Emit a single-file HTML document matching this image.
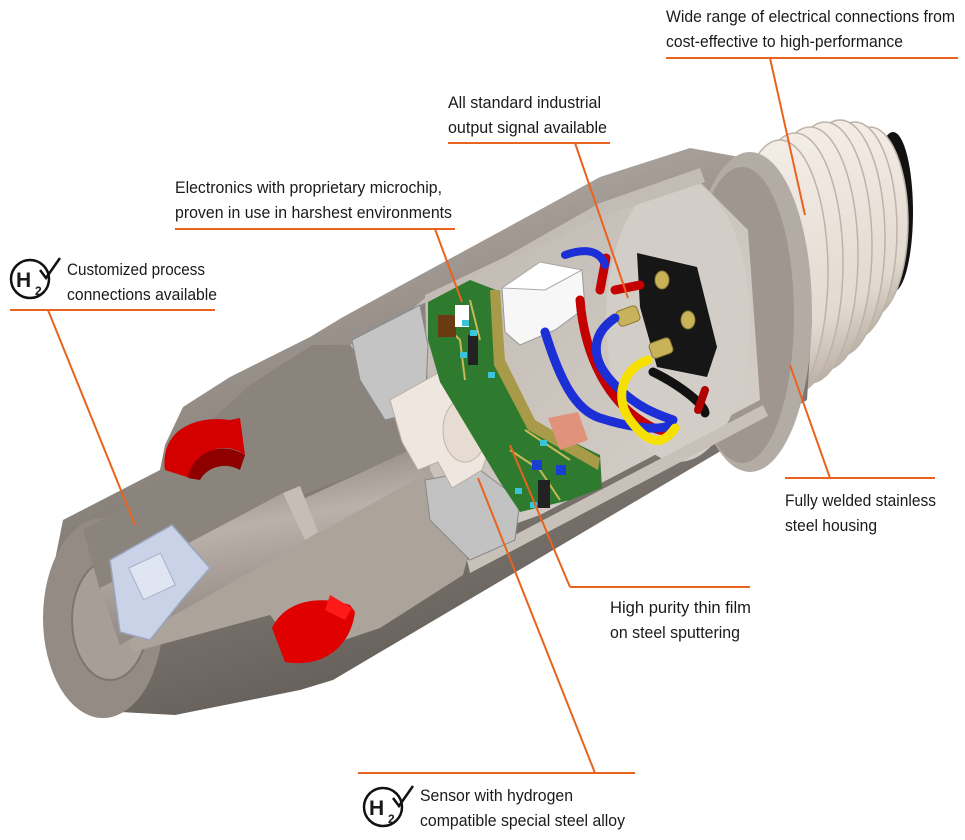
<!DOCTYPE html>
<html><head><meta charset="utf-8"><style>
html,body{margin:0;padding:0;background:#fff;}
svg{display:block}
text{font-family:"Liberation Sans Narrow","Liberation Sans",sans-serif;font-size:17px;fill:#1a1a1a}
</style></head><body>
<svg width="965" height="840" viewBox="0 0 965 840" xmlns="http://www.w3.org/2000/svg">
<defs>
<linearGradient id="hous" x1="0" y1="0" x2="0.4" y2="1">
<stop offset="0" stop-color="#c9c2bb"/><stop offset="0.4" stop-color="#9a928b"/><stop offset="1" stop-color="#625c57"/></linearGradient>
<linearGradient id="bore" x1="0" y1="0" x2="0.3" y2="1">
<stop offset="0" stop-color="#6f6962"/><stop offset="0.5" stop-color="#bab2aa"/><stop offset="1" stop-color="#8a827b"/></linearGradient>
<linearGradient id="thr" x1="0" y1="0" x2="0" y2="1">
<stop offset="0" stop-color="#f3ede6"/><stop offset="0.7" stop-color="#e2d9cf"/><stop offset="1" stop-color="#b8aea3"/></linearGradient>
<linearGradient id="cav" x1="0" y1="0" x2="1" y2="1">
<stop offset="0" stop-color="#bfb8b1"/><stop offset="1" stop-color="#d8d2cc"/></linearGradient>
</defs>

<!-- thread -->
<ellipse cx="893" cy="212" rx="20" ry="80" fill="#111"/>
<g fill="url(#thr)" stroke="#bdb3a8" stroke-width="1.5">
<ellipse cx="870" cy="222" rx="38" ry="95"/>
<ellipse cx="855" cy="230" rx="42" ry="108"/>
<ellipse cx="840" cy="238" rx="45" ry="118"/>
<ellipse cx="825" cy="246" rx="47" ry="124"/>
<ellipse cx="810" cy="255" rx="48" ry="128"/>
<ellipse cx="795" cy="263" rx="48" ry="130"/>
<ellipse cx="780" cy="272" rx="48" ry="132"/>
</g>

<!-- main body silhouette -->
<polygon points="45,610 63,520 160,470 165,445 183,407 230,377 310,337 343,317 600,177 690,148 745,158 790,215 812,320 807,400 333,680 300,690 250,700 175,715 120,712 60,670" fill="url(#hous)"/>
<!-- end rim ring -->
<ellipse cx="750" cy="312" rx="62" ry="160" fill="#b3aca5"/>
<ellipse cx="742" cy="315" rx="52" ry="148" fill="#9e968f"/>
<!-- left end face -->
<ellipse cx="103" cy="618" rx="60" ry="100" fill="#938b84"/>
<ellipse cx="110" cy="620" rx="38" ry="60" fill="#a69e97" stroke="#7d766f" stroke-width="2"/>

<!-- upper cut face (darker) -->
<polygon points="83,530 173,478 190,440 250,385 312,345 350,345 600,205 610,330 440,440 290,500 100,590" fill="#8b847d"/>
<!-- lower cut face (lighter) -->
<polygon points="100,590 440,440 475,470 467,560 463,575 380,628 300,655 270,615 133,652 120,630" fill="#aca49b"/>
<!-- bore -->
<polygon points="100,588 185,545 283,493 290,505 432,440 442,465 315,535 210,595 120,645" fill="url(#bore)"/>
<polygon points="283,493 300,486 318,532 305,540" fill="#c6beb6"/>
<!-- blue insert -->
<polygon points="110,560 172,525 210,568 182,600 150,640 120,632" fill="#c9d2e6" stroke="#9aa4bd" stroke-width="1.5"/>
<rect x="135" y="560" width="35" height="35" fill="#dfe5f2" stroke="#a8b0c6" transform="rotate(-25 150 578)"/>

<!-- red seals -->
<path d="M165,470 C160,430 195,415 230,420 L240,418 L245,455 C225,440 195,450 190,478 Z" fill="#d40000"/>
<path d="M188,478 C192,452 222,440 245,455 L240,470 C222,460 205,470 200,480 Z" fill="#8e0000"/>
<path d="M272,628 C285,600 320,595 350,605 L355,612 C350,650 320,668 285,662 Z" fill="#e00000"/>
<path d="M330,595 L352,608 L345,620 L325,610 Z" fill="#ff1a1a"/>

<!-- cavity -->
<polygon points="425,295 600,212 700,182 748,230 760,400 540,515 470,540 430,470" fill="url(#cav)"/>
<ellipse cx="678" cy="320" rx="72" ry="142" fill="#d3cdc7"/>
<polygon points="350,345 600,203 700,168 705,182 600,217 425,298 358,355" fill="#c3bcb5"/>
<polygon points="467,560 763,405 768,416 470,573" fill="#c8c1ba"/>
<!-- internal grey recesses -->
<polygon points="352,340 420,305 428,345 425,410 385,420 360,380" fill="#c4c4c4" stroke="#888" stroke-width="1"/>
<polygon points="425,480 480,470 520,500 515,540 470,560 430,520" fill="#c2c2c2" stroke="#888" stroke-width="1"/>
<!-- cream sensor body -->
<polygon points="390,400 440,372 480,388 496,430 482,470 452,488 438,462 418,470 402,442" fill="#efe7df" stroke="#b8aea4" stroke-width="1"/>
<ellipse cx="465" cy="430" rx="22" ry="32" fill="#e6dcd2" stroke="#bfb4a9"/>

<!-- PCB -->
<polygon points="428,302 470,280 496,290 500,360 528,420 600,455 602,488 570,500 520,512 500,482 476,442 440,382 428,340" fill="#2e7a2e"/>
<polygon points="490,290 500,290 505,360 535,420 600,458 598,470 528,430 494,365" fill="#a89a48"/>
<path d="M440,320 L460,340 L465,380 M470,300 L480,340 M510,450 L540,470 L560,500 M525,430 L570,460" stroke="#c9b85a" stroke-width="2" fill="none"/>
<rect x="438" y="315" width="18" height="22" fill="#6b3a12"/>
<rect x="455" y="305" width="14" height="22" fill="#fff"/>
<rect x="468" y="335" width="10" height="30" fill="#222"/>
<rect x="538" y="480" width="12" height="28" fill="#222"/>
<g fill="#3cc3d8"><rect x="462" y="320" width="7" height="6"/><rect x="470" y="330" width="7" height="6"/><rect x="460" y="352" width="7" height="6"/><rect x="488" y="372" width="7" height="6"/><rect x="540" y="440" width="7" height="6"/><rect x="515" y="488" width="7" height="6"/><rect x="530" y="502" width="7" height="6"/></g>
<g fill="#1a3fd0"><rect x="532" y="460" width="10" height="10"/><rect x="556" y="465" width="10" height="10"/></g>
<polygon points="548,418 578,412 588,440 560,450" fill="#e0927a"/>

<!-- white connector -->
<polygon points="502,288 540,262 582,270 585,308 555,330 520,345 505,332" fill="#f7f7f7" stroke="#999" stroke-width="1"/>
<polygon points="502,288 540,262 582,270 545,290" fill="#fff" stroke="#aaa" stroke-width="1"/>

<!-- black plate -->
<polygon points="637,253 697,267 717,347 707,377 657,367 640,307" fill="#161616"/>
<g fill="#c9b35a" stroke="#8a7730" stroke-width="1">
<ellipse cx="662" cy="280" rx="7" ry="9"/><ellipse cx="688" cy="320" rx="7" ry="9"/>
<rect x="617" y="308" width="22" height="16" rx="4" transform="rotate(-20 628 316)"/>
<rect x="650" y="340" width="22" height="16" rx="4" transform="rotate(-20 661 348)"/>
</g>

<!-- wires -->
<g fill="none" stroke-linecap="round">
<path d="M580,300 C585,360 610,400 640,420 S665,425 670,425" stroke="#c40000" stroke-width="9"/>
<path d="M606,258 L600,290" stroke="#c40000" stroke-width="9"/>
<path d="M615,290 L640,285" stroke="#c40000" stroke-width="9"/>
<path d="M545,332 C560,380 575,410 600,418 S655,432 672,425" stroke="#1c2fd6" stroke-width="9"/>
<path d="M615,318 C590,335 590,360 615,385 S660,415 673,420" stroke="#1c2fd6" stroke-width="9"/>
<path d="M565,255 C585,248 600,250 605,265" stroke="#1c2fd6" stroke-width="8"/>
<path d="M653,372 C680,385 705,405 705,413" stroke="#111" stroke-width="9"/>
<path d="M705,390 L698,410" stroke="#b00000" stroke-width="8"/>
<path d="M648,360 C620,370 615,400 630,420 S660,450 675,428" stroke="#f5e000" stroke-width="9"/>
</g>

<!-- leader lines -->
<g stroke="#e8641e" stroke-width="2" fill="none">
<path d="M666,58 H958 M770,58 L805,215"/>
<path d="M448,143 H610 M575,143 L628,298"/>
<path d="M175,229 H455 M435,229 L462,302"/>
<path d="M10,310 H215 M48,310 L135,525"/>
<path d="M785,478 H935 M830,478 L790,365"/>
<path d="M570,587 H750 M570,587 L510,445"/>
<path d="M358,773 H635 M595,773 L478,478"/>
</g>

<!-- H2 icons -->
<g>
<circle cx="30" cy="279" r="19" fill="#fff" stroke="#111" stroke-width="2.5"/>
<text x="16" y="287" style="font-size:21px;font-weight:bold">H</text>
<text x="35" y="295" style="font-size:12px;font-weight:bold">2</text>
<path d="M40,270 L46,278 L60,258" stroke="#111" stroke-width="2.5" fill="none"/>
</g>
<g>
<circle cx="383" cy="807" r="19" fill="#fff" stroke="#111" stroke-width="2.5"/>
<text x="369" y="815" style="font-size:21px;font-weight:bold">H</text>
<text x="388" y="823" style="font-size:12px;font-weight:bold">2</text>
<path d="M393,798 L399,806 L413,786" stroke="#111" stroke-width="2.5" fill="none"/>
</g>

<!-- labels -->
<text x="666" y="22" textLength="289" lengthAdjust="spacingAndGlyphs">Wide range of electrical connections from</text>
<text x="666" y="47" textLength="237" lengthAdjust="spacingAndGlyphs">cost-effective to high-performance</text>
<text x="448" y="108" textLength="153" lengthAdjust="spacingAndGlyphs">All standard industrial</text>
<text x="448" y="133" textLength="159" lengthAdjust="spacingAndGlyphs">output signal available</text>
<text x="175" y="193" textLength="267" lengthAdjust="spacingAndGlyphs">Electronics with proprietary microchip,</text>
<text x="175" y="218" textLength="277" lengthAdjust="spacingAndGlyphs">proven in use in harshest environments</text>
<text x="67" y="275" textLength="138" lengthAdjust="spacingAndGlyphs">Customized process</text>
<text x="67" y="300" textLength="150" lengthAdjust="spacingAndGlyphs">connections available</text>
<text x="785" y="506" textLength="151" lengthAdjust="spacingAndGlyphs">Fully welded stainless</text>
<text x="785" y="531" textLength="92" lengthAdjust="spacingAndGlyphs">steel housing</text>
<text x="610" y="613" textLength="141" lengthAdjust="spacingAndGlyphs">High purity thin film</text>
<text x="610" y="638" textLength="130" lengthAdjust="spacingAndGlyphs">on steel sputtering</text>
<text x="420" y="801" textLength="153" lengthAdjust="spacingAndGlyphs">Sensor with hydrogen</text>
<text x="420" y="826" textLength="205" lengthAdjust="spacingAndGlyphs">compatible special steel alloy</text>
</svg>
</body></html>
